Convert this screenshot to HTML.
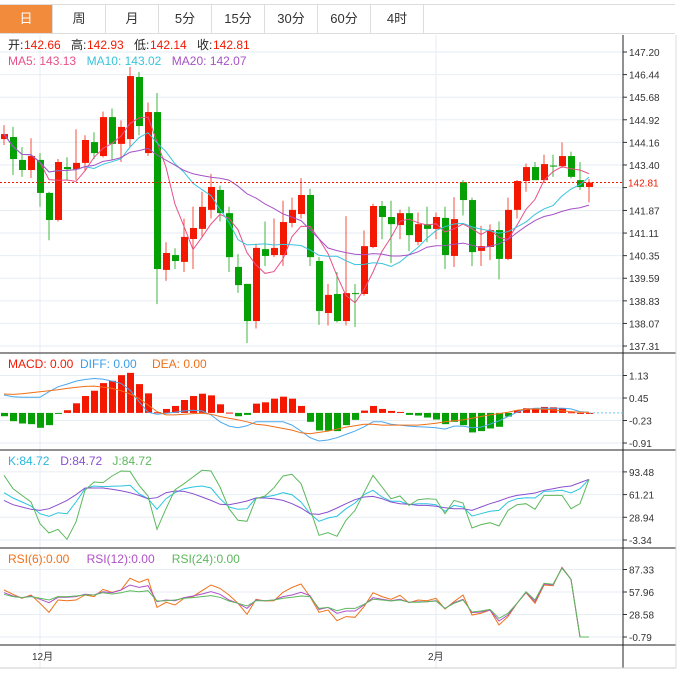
<!DOCTYPE html>
<html><head><meta charset="utf-8">
<style>
body{margin:0;background:#fff;font-family:"Liberation Sans","Noto Sans CJK SC",sans-serif;}
#wrap{position:relative;width:680px;height:677px;overflow:hidden;}
.tabs{position:absolute;left:0;top:4px;height:28px;display:flex;border-top:1px solid #ddd;border-bottom:1px solid #ddd;width:675px}
.tab{width:52px;border-right:1px solid #ddd;text-align:center;line-height:28px;font-size:13px;color:#333}
.tab.on{background:#f28c3c;color:#fff}
svg{position:absolute;left:0;top:0}
</style></head><body>
<div id="wrap">
<div class="tabs">
<div class="tab on">日</div>
<div class="tab">周</div>
<div class="tab">月</div>
<div class="tab">5分</div>
<div class="tab">15分</div>
<div class="tab">30分</div>
<div class="tab">60分</div>
<div class="tab">4时</div>
</div>
<svg id="c" width="680" height="677"></svg>
</div>
<script>
const opens=[144.27,144.34,143.57,143.23,143.57,142.46,141.55,143.33,143.26,143.47,144.17,143.70,145.01,144.11,144.27,146.36,143.80,145.18,139.87,140.37,140.14,140.91,141.25,141.89,142.56,141.78,139.97,139.40,138.15,140.57,140.37,140.37,141.45,141.75,142.39,140.17,138.42,139.06,138.15,139.09,139.06,140.64,142.02,141.65,141.38,141.78,140.81,141.41,141.25,141.62,140.34,142.82,142.22,140.51,140.64,141.21,140.24,141.89,142.86,143.33,142.89,143.38,143.36,143.70,142.89,142.66];
const highs=[144.74,144.68,144.00,144.30,143.80,142.50,143.60,143.66,144.60,144.40,144.50,145.20,145.30,144.90,146.70,146.53,145.50,145.82,140.80,140.60,141.60,142.00,142.50,143.10,142.70,142.00,140.40,139.40,140.75,141.50,141.60,142.20,142.30,142.96,142.60,140.30,139.40,139.80,141.68,139.40,141.20,142.10,142.19,142.20,141.90,142.00,141.80,142.00,141.80,142.00,142.32,142.90,142.30,141.35,141.40,141.50,142.30,142.90,143.45,143.50,143.75,143.75,144.16,143.85,143.50,142.93];
const lows=[144.07,143.06,143.00,142.96,142.00,140.87,141.50,142.90,142.90,143.20,143.60,143.65,143.57,143.50,144.00,144.40,143.70,138.72,139.50,139.90,139.80,139.90,141.00,141.60,141.50,139.80,139.10,137.41,137.90,140.00,140.30,140.00,141.30,141.60,140.00,138.02,138.00,138.10,138.00,137.95,139.00,140.60,140.90,140.10,140.90,140.50,140.70,140.80,140.90,139.90,139.97,141.70,140.00,140.00,140.20,139.55,140.20,141.60,142.50,142.90,142.80,143.00,143.30,142.95,142.56,142.14];
const closes=[144.44,143.60,143.23,143.70,142.46,141.55,143.50,143.26,143.47,144.24,143.80,145.01,144.11,144.68,146.39,144.71,145.18,139.90,140.44,140.17,140.98,141.28,141.99,142.66,141.78,140.30,139.36,138.15,140.61,140.34,140.61,141.48,141.89,142.39,140.30,138.49,139.03,138.15,139.09,139.06,140.67,142.02,141.65,141.41,141.78,141.04,141.41,141.25,141.65,140.37,141.58,142.22,140.47,140.67,141.21,140.24,141.89,142.86,143.33,142.89,143.43,143.36,143.70,143.00,142.66,142.81];
const macdHist=[-0.1,-0.25,-0.32,-0.34,-0.45,-0.37,-0.03,0.08,0.29,0.51,0.67,0.90,0.97,1.14,1.21,0.87,0.59,0.02,0.12,0.21,0.39,0.51,0.58,0.53,0.26,0.01,-0.1,-0.06,0.28,0.32,0.43,0.49,0.43,0.21,-0.27,-0.53,-0.54,-0.55,-0.37,-0.21,0.07,0.21,0.12,0.06,0.03,-0.06,-0.08,-0.14,-0.2,-0.34,-0.27,-0.37,-0.59,-0.55,-0.47,-0.42,-0.11,0.08,0.14,0.12,0.18,0.17,0.15,0.02,0,0];
const difVals=[0.54,0.49,0.47,0.47,0.47,0.64,0.79,0.87,0.96,1.01,1.04,1.02,0.96,0.89,0.69,0.34,0.02,-0.04,-0.01,0.02,0.06,0.08,0.06,-0.06,-0.27,-0.40,-0.45,-0.39,-0.27,-0.27,-0.27,-0.27,-0.37,-0.55,-0.75,-0.85,-0.82,-0.75,-0.65,-0.55,-0.42,-0.27,-0.27,-0.34,-0.37,-0.40,-0.42,-0.43,-0.45,-0.49,-0.40,-0.40,-0.45,-0.43,-0.34,-0.24,-0.11,0.02,0.11,0.14,0.14,0.14,0.14,0.12,0.04,0.02];
const deaVals=[0.57,0.56,0.58,0.61,0.64,0.67,0.70,0.74,0.77,0.80,0.81,0.78,0.74,0.67,0.57,0.44,0.24,0.04,-0.06,-0.06,-0.04,-0.02,-0.01,-0.04,-0.11,-0.16,-0.21,-0.27,-0.34,-0.37,-0.42,-0.47,-0.52,-0.60,-0.63,-0.59,-0.55,-0.49,-0.43,-0.39,-0.34,-0.34,-0.37,-0.37,-0.37,-0.37,-0.37,-0.34,-0.31,-0.27,-0.24,-0.21,-0.16,-0.11,-0.06,-0.02,0.02,0.08,0.11,0.12,0.11,0.09,0.06,0.04,0.02,0.02];
const kVals=[63.9,56.4,50.7,45.0,34.1,30.3,35.5,34.1,50.7,69.6,73.4,72.5,73.0,73.4,74.4,62.5,55.4,40.3,55.4,63.9,69.6,72.0,73.4,70.6,55.4,43.6,40.3,41.2,56.4,57.8,60.1,63.9,61.1,50.7,34.1,23.2,27.9,30.3,41.2,49.3,61.1,67.3,57.8,51.6,51.6,46.9,48.3,48.3,46.9,37.4,45.9,43.6,30.8,34.1,37.4,38.8,50.7,55.4,56.8,56.4,65.8,66.3,67.3,63.5,69.6,82.9];
const dVals=[53.0,46.9,43.6,40.3,38.8,41.2,46.9,53.0,61.1,70.6,70.6,70.6,68.7,66.8,63.9,60.1,55.4,56.8,63.9,66.3,65.8,62.5,57.8,53.0,47.4,46.9,49.3,52.1,56.4,56.4,55.4,53.0,48.3,42.1,34.1,33.1,36.5,42.1,48.3,54.0,57.8,58.7,55.4,50.7,48.3,47.4,45.9,45.9,44.5,42.6,41.2,41.2,38.8,43.6,48.3,52.1,56.8,60.1,61.6,63.5,67.3,69.6,72.0,73.4,78.2,82.9];
const jVals=[88.6,69.6,60.1,50.7,19.9,6.6,11.8,-2.4,22.2,67.3,79.1,78.2,87.6,94.7,94.3,74.4,59.2,11.8,41.2,68.2,76.7,86.2,95.7,94.7,72.0,41.2,24.6,23.2,55.4,59.2,71.0,87.6,90.0,76.7,41.2,3.3,7.1,1.9,24.6,38.8,63.9,88.6,72.0,55.4,59.2,45.9,54.0,55.4,54.5,34.1,53.0,49.3,13.7,18.5,21.3,16.6,38.8,46.9,48.3,40.3,60.1,60.1,60.1,41.2,48.3,82.9];
const rsi6=[60.6,54.9,49.7,54.0,43.2,31.4,47.5,46.6,47.5,54.0,51.9,61.4,57.5,60.6,75.8,70.6,74.9,37.9,44.5,41.0,49.7,51.9,59.7,67.1,62.7,54.0,43.2,28.8,48.4,46.2,46.6,57.5,64.0,68.4,51.9,31.4,34.5,20.5,25.8,24.9,38.8,57.1,51.9,48.4,53.6,44.0,47.5,46.6,49.7,35.8,45.3,54.0,27.9,30.1,34.5,14.9,25.8,43.2,57.1,43.2,67.1,66.2,90.2,74.5,-0.79,-0.79];
const rsi12=[57.1,52.7,50.6,52.7,48.4,44.0,51.0,51.0,51.9,54.9,54.0,58.4,57.1,60.6,67.1,64.0,66.2,45.3,47.5,46.6,50.6,52.7,55.4,58.4,54.9,47.5,43.2,36.6,47.5,46.6,47.5,51.9,54.0,57.5,53.2,35.3,37.9,30.1,33.2,33.2,41.0,50.6,48.4,46.6,48.4,44.5,45.3,45.3,46.6,36.6,44.0,48.4,31.0,31.9,34.5,20.1,27.9,43.2,57.5,45.3,68.4,67.1,89.7,74.5,-0.79,-0.79];
const rsi24=[54.9,51.9,50.6,51.9,49.7,47.5,51.9,51.9,52.7,54.0,54.0,57.1,55.4,57.1,59.7,58.4,59.7,46.2,46.6,47.5,49.7,50.6,51.9,53.2,51.0,46.2,43.2,39.7,46.6,46.6,47.5,49.7,51.0,52.7,51.9,36.6,37.9,33.6,36.6,36.6,41.9,48.4,47.5,46.2,47.5,44.5,44.5,45.3,46.2,36.6,43.2,47.5,31.9,33.2,35.3,23.6,30.1,43.2,58.4,47.5,69.3,68.0,88.9,74.5,-0.79,-0.79];
const priceTicks=["147.20","146.44","145.68","144.92","144.16","143.40","142.64","141.87","141.11","140.35","139.59","138.83","138.07","137.31"];
const macdTicks=["1.13","0.45","-0.23","-0.91"];
const kdjTicks=["93.48","61.21","28.94","-3.34"];
const rsiTicks=["87.33","57.96","28.58","-0.79"];
const dateLabels=["12月","2月"];
const dateIdx=[4,48];

const svg=document.getElementById('c');const NS='http://www.w3.org/2000/svg';
function el(t,a,p){const e=document.createElementNS(NS,t);for(const k in a)e.setAttribute(k,a[k]);(p||svg).appendChild(e);return e;}
const xAt=i=>4+i*9;
const yMain=p=>52+(147.20-p)*29.73;
const yMacd=v=>412.9-v*33.1;
const yKdj=v=>540-(v+3.34)*0.7035;
const yRsi=v=>637-(v+0.79)*0.766;
const RED='#f41800',GREEN='#04a004';
function hgrid(ticks,fy,name){ticks.forEach(t=>{const y=fy(parseFloat(t));const l=el('line',{x1:0,x2:623,y1:y,y2:y,stroke:'#e6eef4','stroke-width':1});
 el('line',{x1:623,x2:627,y1:y,y2:y,stroke:'#333'});
 if(!(name==='price'&&t==='142.64')){const tx=el('text',{x:629,y:y+4,'font-size':10,fill:'#333'});tx.textContent=t;}});}
hgrid(priceTicks,p=>yMain(p),'price');hgrid(macdTicks,yMacd,'macd');hgrid(kdjTicks,yKdj,'kdj');hgrid(rsiTicks,yRsi,'rsi');
dateIdx.forEach((i,k)=>{el('line',{x1:xAt(i),x2:xAt(i),y1:35,y2:668,stroke:'#e6eef4'});const t=el('text',{x:xAt(i)-8,y:660,'font-size':10,fill:'#333'});t.textContent=dateLabels[k];});
[353,450,548,645].forEach(y=>el('line',{x1:0,x2:676,y1:y,y2:y,stroke:'#222'}));
el('line',{x1:623,x2:623,y1:35,y2:668,stroke:'#222'});
el('line',{x1:0,x2:676,y1:668,y2:668,stroke:'#ccc'});
el('line',{x1:676,x2:676,y1:35,y2:668,stroke:'#ddd'});
const n=closes.length;
for(let i=0;i<n;i++){const up=closes[i]>=opens[i];const c=up?RED:GREEN;const x=xAt(i);
 const w=el('line',{x1:x,x2:x,y1:yMain(highs[i]),y2:yMain(lows[i]),stroke:c,'stroke-width':1,opacity:0.75});
 
 const t=Math.min(yMain(opens[i]),yMain(closes[i]));const h=Math.max(1,Math.abs(yMain(opens[i])-yMain(closes[i])));
 const r=el('rect',{x:x-3,y:t,width:7,height:h,fill:c});
 }
function ma(p){return closes.map((_,i)=>{const s=closes.slice(Math.max(0,i-p+1),i+1);return s.reduce((a,b)=>a+b,0)/s.length;});}
function poly(arr,fy,color,name){const pts=arr.map((v,i)=>xAt(i)+','+fy(v).toFixed(1)).join(' ');const p=el('polyline',{points:pts,fill:'none',stroke:color,'stroke-width':1});}
poly(ma(5),yMain,'#e8508a','ma5-line');poly(ma(10),yMain,'#38c4dc','ma10-line');poly(ma(20),yMain,'#a652c6','ma20-line');
const cp=el('line',{x1:0,x2:623,y1:yMain(closes[n-1]),y2:yMain(closes[n-1]),stroke:RED,'stroke-dasharray':'2,2'});
const cpl=el('text',{x:628,y:yMain(closes[n-1])+4,'font-size':10,fill:RED});cpl.textContent=closes[n-1].toFixed(2);
macdHist.forEach((v,i)=>{const y0=yMacd(0),y1=yMacd(v);const r=el('rect',{x:xAt(i)-3,y:Math.min(y0,y1),width:7,height:Math.max(1,Math.abs(y1-y0)),fill:v>=0?RED:GREEN});});
poly(difVals,yMacd,'#4aa8ee','diff-line');poly(deaVals,yMacd,'#f07018','dea-line');
el('line',{x1:xAt(n-1),x2:623,y1:yMacd(0),y2:yMacd(0),stroke:'#6cc8ec','stroke-dasharray':'2,2'});
poly(kVals,yKdj,'#2ac4e0','k-line');poly(dVals,yKdj,'#8a4fd0','d-line');poly(jVals,yKdj,'#5cb85c','j-line');
poly(rsi6,yRsi,'#f07018','rsi6-line');poly(rsi12,yRsi,'#b050c8','rsi12-line');poly(rsi24,yRsi,'#5cb85c','rsi24-line');
function legend(items,y,name){let x=8;items.forEach(([t,c])=>{const e=el('text',{x:x,y:y,'font-size':12,fill:c});e.textContent=t;x+=t.length*6.6+6;});}
function ohlc(){let x=8;const y=49;[["开:",142.66],["高:",142.93],["低:",142.14],["收:",142.81]].forEach(([l,v])=>{const a=el('text',{x:x,y:y,'font-size':12,fill:'#222'});a.textContent=l;const b=el('text',{x:x+16,y:y,'font-size':12,fill:RED});b.textContent=v.toFixed(2);x+=16+34+13;});}
ohlc();
legend([["MA5: 143.13",'#e8508a'],["MA10: 143.02",'#38c4dc'],["MA20: 142.07",'#a652c6']],65,'ma-legend');
legend([["MACD: 0.00",RED],["DIFF: 0.00",'#3a9ee8'],["DEA: 0.00",'#f07018']],368,'macd-legend');
legend([["K:84.72",'#2ab8e0'],["D:84.72",'#8a4fd0'],["J:84.72",'#5cb85c']],465,'kdj-legend');
legend([["RSI(6):0.00",'#f07018'],["RSI(12):0.00",'#b050c8'],["RSI(24):0.00",'#5cb85c']],563,'rsi-legend');
</script>
</body></html>
